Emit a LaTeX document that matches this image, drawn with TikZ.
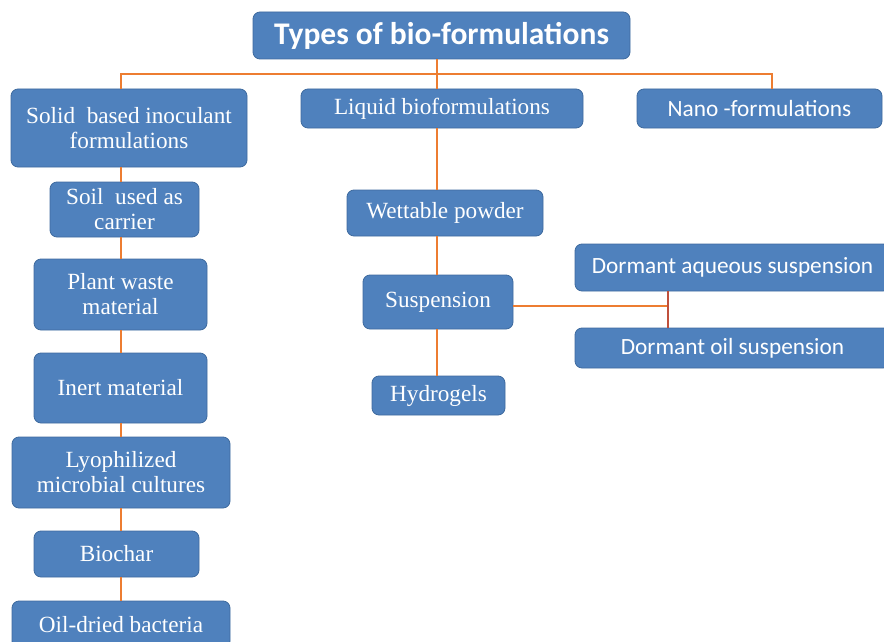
\documentclass[tikz,border=0pt]{standalone}
\usepackage{fontspec}
\setmainfont{Liberation Serif}
\newfontfamily\calibri{Carlito}
\definecolor{boxblue}{RGB}{79,129,189}
\definecolor{boxedge}{RGB}{62,106,158}
\definecolor{linkorange}{RGB}{237,125,49}
\definecolor{linkred}{RGB}{192,80,60}

\begin{document}
\begin{tikzpicture}[x=1pt,y=-1pt,
    box/.style={draw=boxedge,fill=boxblue,rounded corners=7pt,line width=0.8pt,
      text=white,align=center,inner sep=0pt,font=\fontsize{23.2}{25}\selectfont},
    cbox/.style={box,font=\calibri\fontsize{23.3}{26}\selectfont},
    link/.style={draw=linkorange,line width=1.6pt}]
  \useasboundingbox (0,0) rectangle (884,642);

  % Root
  \node[box,font=\calibri\bfseries\fontsize{31.5}{34}\selectfont,
    minimum width=377pt,minimum height=47pt] (title) at (441.5,35.5) {Types of bio-formulations};

  % First level
  \node[box,minimum width=236pt,minimum height=78pt] (solid) at (129,128) {Solid~ based inoculant\\formulations};
  \node[box,minimum width=282pt,minimum height=39pt] (liquid) at (442,108.5) {Liquid bioformulations};
  \node[cbox,minimum width=245pt,minimum height=39pt] (nano) at (759.5,108.5) {Nano -formulations};

  % Solid carriers
  \node[box,minimum width=149pt,minimum height=55pt] (soil) at (124.5,209.5) {Soil~ used as\\carrier};
  \node[box,minimum width=173pt,minimum height=71pt] (plant) at (120.5,294.5) {Plant waste\\material};
  \node[box,minimum width=173pt,minimum height=70pt] (inert) at (120.5,388) {Inert material};
  \node[box,minimum width=218pt,minimum height=71pt] (lyo) at (121,472.5) {Lyophilized\\microbial cultures};
  \node[box,minimum width=165pt,minimum height=46pt] (biochar) at (116.5,554) {Biochar};
  \node[box,minimum width=218pt,minimum height=47pt] (oil) at (121,624.5) {Oil-dried bacteria};

  % Liquid types
  \node[box,minimum width=196pt,minimum height=46pt] (wettable) at (445,213) {Wettable powder};
  \node[box,minimum width=150pt,minimum height=54pt] (susp) at (438,302) {Suspension};
  \node[box,minimum width=133pt,minimum height=39pt] (hydro) at (438.5,395.5) {Hydrogels};
  \node[cbox,minimum width=315pt,minimum height=47pt] (aq) at (732.5,267.5) {Dormant aqueous suspension};
  \node[cbox,minimum width=315pt,minimum height=40pt] (doil) at (732.5,348) {Dormant oil suspension};

  % Connectors
  \coordinate (bus) at (437,74);
  \coordinate (lcol) at (121,74);
  \coordinate (rcol) at (772,74);
  \coordinate (fork) at (668,306);
  \draw[link] (title.south -| bus) -- (liquid.north -| bus);
  \draw[link] (solid.north -| lcol) -- (lcol) -- (rcol) -- (nano.north -| rcol);
  \foreach \a/\b in {solid/soil,soil/plant,plant/inert,inert/lyo,lyo/biochar,biochar/oil}
    \draw[link] (\a.south -| lcol) -- (\b.north -| lcol);
  \foreach \a/\b in {liquid/wettable,wettable/susp,susp/hydro}
    \draw[link] (\a.south -| bus) -- (\b.north -| bus);
  \draw[link,line width=1.2pt] (susp.east |- fork) -- (fork);
  \draw[link,draw=linkred] (aq.south -| fork) -- (doil.north -| fork);
\end{tikzpicture}
\end{document}
